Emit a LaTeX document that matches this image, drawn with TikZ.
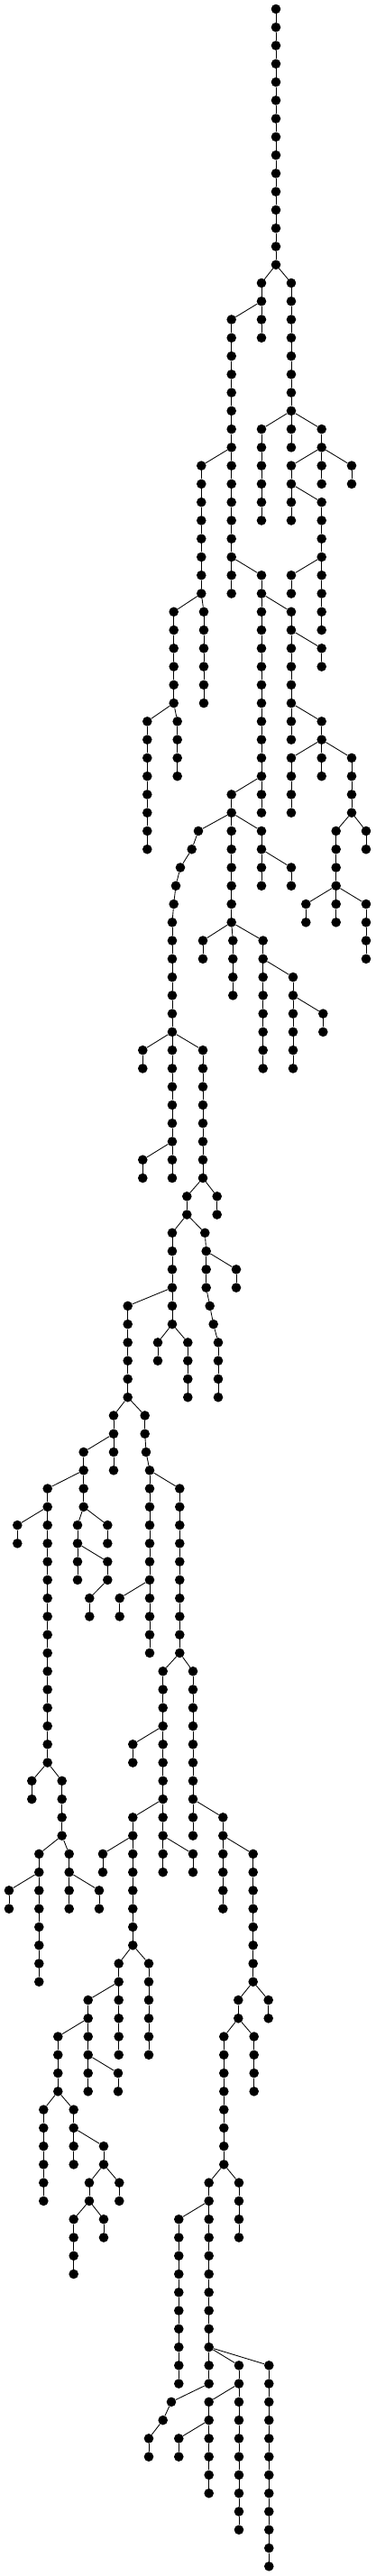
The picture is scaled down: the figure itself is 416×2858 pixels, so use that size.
\documentclass[tikz,border=0pt]{standalone}
\begin{document}
\tikzset{dot/.style={circle,fill=black,draw=none,inner sep=0pt,minimum size=10.6pt},
  edge/.style={line width=0.85pt,black}}
\newcommand\vchain[4]{%
  \foreach \r [remember=\r as \p (initially #3)] in {#3,...,#4}{%
    \node[dot] (#1-\r) at (#2,{-(10+20.266*\r)}) {};
    \ifnum\r>#3\relax \draw[edge] (#1-\p) -- (#1-\r);\fi
  }%
}
\newcommand\nd[3]{\node[dot] (#1) at (#2,{-(10+20.266*#3)}) {};}
\newcommand\ed[2]{\draw[edge] (#1) -- (#2);}
\begin{tikzpicture}[x=1pt,y=1pt]
\useasboundingbox (0,0) rectangle (416,-2858);
% vertical chains
\vchain{R}{306}{0}{14}
\vchain{A}{290}{15}{18}
\vchain{B}{323}{15}{22}
\vchain{C}{256.7}{17}{32}
\vchain{D}{223.3}{25}{32}
\vchain{E}{290}{23}{28}
\vchain{F}{323}{23}{24}
\vchain{G}{356.7}{23}{24}
\vchain{H}{323}{25}{28}
\vchain{I}{356.7}{25}{26}
\vchain{J}{390}{25}{26}
\vchain{K}{356.7}{27}{34}
\vchain{L}{323}{31}{32}
\vchain{M}{290}{31}{44}
\vchain{N}{323}{33}{40}
\vchain{O}{356.7}{35}{36}
\vchain{P}{356.7}{39}{40}
\vchain{Q}{323}{41}{44}
\vchain{S}{356.7}{41}{42}
\vchain{T}{390}{41}{44}
\vchain{U}{372.7}{45}{50}
\vchain{V}{406}{45}{46}
\vchain{W}{339.3}{49}{50}
\vchain{X}{406}{49}{52}
\vchain{Y}{192.7}{33}{38}
\vchain{Z}{226}{33}{38}
\vchain{AA}{163.3}{39}{46}
\vchain{AB}{196.7}{39}{42}
\vchain{AC}{256.7}{43}{50}
\nd{AD-45}{220}{45}
\nd{AD-46}{212.7}{46}
\nd{AD-47}{200}{47}
\nd{AD-48}{195}{48}
\nd{AD-49}{192.7}{49}
\vchain{AD}{191}{50}{56}
\vchain{AE}{290}{45}{48}
\vchain{AF}{323}{47}{48}
\vchain{AG}{225}{51}{52}
\vchain{AH}{258.3}{51}{54}
\vchain{AI}{291.7}{51}{58}
\vchain{AJ}{325}{53}{58}
\vchain{AK}{358.3}{55}{56}
\vchain{AL}{158.3}{57}{58}
\vchain{AM}{191}{57}{64}
\vchain{AN}{225}{57}{64}
\vchain{AO}{158.3}{63}{64}
\vchain{AP}{207.3}{65}{66}
\vchain{AQ}{240.7}{65}{66}
\vchain{AR}{191}{67}{72}
\nd{AS-67}{227.3}{67}
\vchain{AS}{228.7}{68}{70}
\nd{AS-71}{232.7}{71}
\nd{AS-72}{236.7}{72}
\vchain{AS}{242}{73}{76}
\vchain{AT}{262}{69}{70}
\vchain{AU}{141.7}{71}{76}
\vchain{AV}{175}{73}{74}
\vchain{AW}{208.3}{73}{76}
\vchain{AX}{126}{77}{80}
\vchain{AY}{160.7}{77}{78}
\nd{AY-79}{162}{79}
\vchain{AY}{166}{80}{90}
\vchain{AZ}{92.7}{79}{82}
\vchain{BA}{199.3}{81}{90}
\vchain{BB}{52.7}{81}{96}
\vchain{BC}{19.3}{83}{84}
\vchain{BD}{86}{83}{86}
\vchain{BE}{119.3}{83}{84}
\vchain{BF}{119.3}{85}{86}
\vchain{BG}{99.3}{87}{88}
\vchain{BH}{132.7}{87}{88}
\vchain{BI}{180.7}{91}{102}
\vchain{BJ}{214}{91}{100}
\vchain{BK}{147.3}{95}{96}
\vchain{BL}{35.3}{97}{98}
\vchain{BM}{68.7}{97}{100}
\vchain{BN}{147.3}{99}{106}
\vchain{BO}{247.3}{99}{104}
\vchain{BP}{43.3}{101}{108}
\vchain{BQ}{76.7}{101}{104}
\vchain{BR}{114}{101}{102}
\vchain{BS}{214}{101}{102}
\vchain{BT}{280.7}{101}{108}
\vchain{BU}{10}{103}{104}
\vchain{BV}{110}{103}{104}
\vchain{BW}{131.7}{107}{112}
\vchain{BX}{165}{107}{112}
\vchain{BY}{97.7}{109}{114}
\vchain{BZ}{264.3}{109}{110}
\vchain{CA}{297.7}{109}{110}
\vchain{CB}{64.3}{111}{114}
\vchain{CC}{248.3}{111}{118}
\vchain{CD}{281.7}{111}{114}
\vchain{CE}{131}{113}{114}
\vchain{CF}{48.3}{115}{120}
\vchain{CG}{81.7}{115}{118}
\vchain{CH}{115}{117}{118}
\vchain{CI}{99}{119}{120}
\vchain{CJ}{132.3}{119}{120}
\vchain{CK}{81.7}{121}{124}
\vchain{CL}{115}{121}{122}
\vchain{CM}{231.7}{119}{130}
\vchain{CN}{265}{119}{122}
\vchain{CO}{198.3}{121}{130}
\vchain{CP}{265}{129}{138}
\vchain{CQ}{298.3}{129}{140}
\nd{CR-131}{190}{131}
\nd{CR-132}{180.7}{132}
\vchain{CR}{165}{133}{134}
\vchain{CS}{231.7}{131}{136}
\vchain{CT}{198.3}{133}{134}
% joins within slanted chains
\ed{AD-45}{AD-46}\ed{AD-46}{AD-47}\ed{AD-47}{AD-48}\ed{AD-48}{AD-49}\ed{AD-49}{AD-50}
\ed{AS-67}{AS-68}\ed{AS-70}{AS-71}\ed{AS-71}{AS-72}\ed{AS-72}{AS-73}
\ed{AY-78}{AY-79}\ed{AY-79}{AY-80}
\ed{CR-131}{CR-132}\ed{CR-132}{CR-133}
% branch edges
\ed{R-14}{A-15}\ed{R-14}{B-15}
\ed{A-16}{C-17}
\ed{C-24}{D-25}
\ed{B-22}{E-23}\ed{B-22}{F-23}\ed{B-22}{G-23}
\ed{G-24}{H-25}\ed{G-24}{I-25}\ed{G-24}{J-25}
\ed{H-26}{K-27}
\ed{K-30}{L-31}
\ed{C-30}{M-31}
\ed{M-32}{N-33}
\ed{N-34}{O-35}
\ed{N-38}{P-39}
\ed{P-40}{Q-41}\ed{P-40}{S-41}\ed{P-40}{T-41}
\ed{T-44}{U-45}\ed{T-44}{V-45}
\ed{U-48}{W-49}\ed{U-48}{X-49}
\ed{D-32}{Y-33}\ed{D-32}{Z-33}
\ed{Y-38}{AA-39}\ed{Y-38}{AB-39}
\ed{M-42}{AC-43}
\ed{AC-44}{AD-45}\ed{AC-44}{AE-45}
\ed{AE-46}{AF-47}
\ed{AC-50}{AG-51}\ed{AC-50}{AH-51}\ed{AC-50}{AI-51}
\ed{AI-52}{AJ-53}
\ed{AJ-54}{AK-55}
\ed{AD-56}{AL-57}\ed{AD-56}{AM-57}\ed{AD-56}{AN-57}
\ed{AM-62}{AO-63}
\ed{AN-64}{AP-65}\ed{AN-64}{AQ-65}
\ed{AP-66}{AR-67}\ed{AP-66}{AS-67}
\ed{AS-68}{AT-69}
\ed{AR-70}{AU-71}
\ed{AR-72}{AV-73}\ed{AR-72}{AW-73}
\ed{AU-76}{AX-77}\ed{AU-76}{AY-77}
\ed{AX-78}{AZ-79}
\ed{AY-80}{BA-81}
\ed{AZ-80}{BB-81}
\ed{BB-82}{BC-83}
\ed{AZ-82}{BD-83}\ed{AZ-82}{BE-83}
\ed{BD-84}{BF-85}
\ed{BF-86}{BG-87}
\ed{AY-86}{BH-87}
\ed{BA-90}{BI-91}\ed{BA-90}{BJ-91}
\ed{BI-94}{BK-95}
\ed{BB-96}{BL-97}\ed{BB-96}{BM-97}
\ed{BI-98}{BN-99}
\ed{BJ-98}{BO-99}
\ed{BM-100}{BP-101}\ed{BM-100}{BQ-101}
\ed{BN-100}{BR-101}
\ed{BI-100}{BS-101}
\ed{BO-100}{BT-101}
\ed{BP-102}{BU-103}
\ed{BQ-102}{BV-103}
\ed{BN-106}{BW-107}\ed{BN-106}{BX-107}
\ed{BW-108}{BY-109}
\ed{BT-108}{BZ-109}\ed{BT-108}{CA-109}
\ed{BY-110}{CB-111}
\ed{BZ-110}{CC-111}\ed{BZ-110}{CD-111}
\ed{BY-112}{CE-113}
\ed{CB-114}{CF-115}\ed{CB-114}{CG-115}
\ed{CG-116}{CH-117}
\ed{CH-118}{CI-119}\ed{CH-118}{CJ-119}
\ed{CI-120}{CK-121}\ed{CI-120}{CL-121}
\ed{CC-118}{CM-119}\ed{CC-118}{CN-119}
\ed{CM-120}{CO-121}
\ed{CM-128}{CP-129}\ed{CM-128}{CQ-129}
\ed{CM-130}{CR-131}
\ed{CP-130}{CS-131}
\ed{CS-132}{CT-133}
\end{tikzpicture}
\end{document}
